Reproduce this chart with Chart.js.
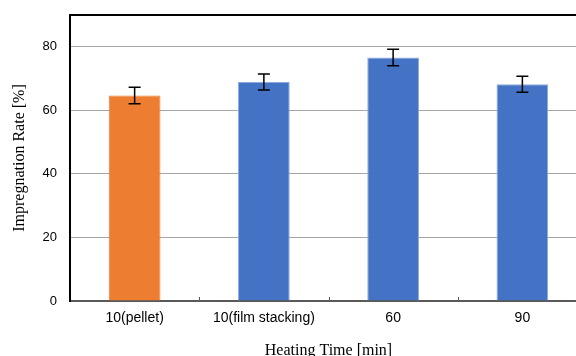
<!DOCTYPE html>
<html>
<head>
<meta charset="utf-8">
<script src="https://cdn.jsdelivr.net/npm/chart.js@4.4.1/dist/chart.umd.min.js"></script>
<style>
html,body{margin:0;padding:0;overflow:hidden;background:#fff;width:576px;height:356px;}
canvas{display:block;}
</style>
</head>
<body>
<canvas id="c" width="600" height="356"></canvas>
<script>
const categories = ["10(pellet)", "10(film stacking)", "60", "90"];
const impregnationRate = [64.7, 68.9, 76.6, 68.2];
const errorAmount = [2.6, 2.5, 2.6, 2.5];
const barColors = ["#ED7D31", "#4472C4", "#4472C4", "#4472C4"];
const yTicks = [0, 20, 40, 60, 80];
const yMax = 90;

const errorBars = {
  id: 'errorBars',
  afterDatasetsDraw(chart) {
    const ctx = chart.ctx;
    const meta = chart.getDatasetMeta(0);
    const y = chart.scales.y;
    ctx.save();
    ctx.strokeStyle = '#000';
    ctx.lineWidth = 1.5;
    meta.data.forEach((bar, i) => {
      const v = impregnationRate[i], e = errorAmount[i];
      const yt = y.getPixelForValue(v + e), yb = y.getPixelForValue(v - e);
      const x = bar.x, cw = 6;
      ctx.beginPath();
      ctx.moveTo(x, yt); ctx.lineTo(x, yb);
      ctx.moveTo(x - cw, yt); ctx.lineTo(x + cw, yt);
      ctx.moveTo(x - cw, yb); ctx.lineTo(x + cw, yb);
      ctx.stroke();
    });
    const xs = chart.scales.x;
    ctx.strokeStyle = '#595959';
    ctx.lineWidth = 1;
    for (let i = 0; i < categories.length - 1; i++) {
      const px = Math.round((xs.getPixelForValue(i) + xs.getPixelForValue(i + 1)) / 2) + 0.5;
      ctx.beginPath();
      ctx.moveTo(px, y.bottom);
      ctx.lineTo(px, y.bottom - 4);
      ctx.stroke();
    }
    ctx.restore();
  }
};

new Chart(document.getElementById('c'), {
  type: 'bar',
  data: {
    labels: categories,
    datasets: [{
      data: impregnationRate,
      backgroundColor: barColors,
      borderColor: barColors.map(c => c === '#4472C4' ? '#8eaadb' : c),
      borderWidth: 1,
      barPercentage: 0.4,
      categoryPercentage: 1.0
    }]
  },
  options: {
    responsive: false,
    animation: false,
    devicePixelRatio: 1,
    layout: { padding: { left: 0, top: 15, right: 13, bottom: 0 } },
    plugins: { legend: { display: false }, tooltip: { enabled: false } },
    scales: {
      x: {
        afterFit: s => { s.height = 55; s.paddingLeft = 0; s.paddingRight = 0; },
        grid: { display: false, drawTicks: false },
        border: { display: true, color: '#595959', width: 2 },
        ticks: { color: '#000', padding: 9, font: { family: "'Liberation Sans', Arial, sans-serif", size: 14 } },
        title: {
          display: true, text: 'Heating Time [min]', color: '#000',
          font: { family: "'Liberation Serif', 'Times New Roman', serif", size: 16, lineHeight: 1 },
          padding: { top: 0, bottom: -3 }
        }
      },
      y: {
        min: 0, max: yMax,
        afterFit: s => { s.width = 70; s.paddingTop = 0; s.paddingBottom = 0; },
        afterBuildTicks: s => { s.ticks = yTicks.concat([yMax]).map(v => ({ value: v })); },
        grid: {
          drawTicks: false,
          color: c => c.tick && c.tick.value === yMax ? '#000' : '#a6a6a6',
          lineWidth: c => c.tick && c.tick.value === yMax ? 2 : 1
        },
        border: { display: true, color: '#000', width: 2 },
        ticks: {
          color: '#000', padding: 13,
          font: { family: "'Liberation Sans', Arial, sans-serif", size: 13 },
          callback: v => (yTicks.includes(v) ? String(v) : '')
        },
        title: {
          display: true, text: 'Impregnation Rate [%]', color: '#000',
          font: { family: "'Liberation Serif', 'Times New Roman', serif", size: 16, lineHeight: 1.2 },
          padding: { top: 10, bottom: 0 }
        }
      }
    }
  },
  plugins: [errorBars]
});
</script>
</body>
</html>
